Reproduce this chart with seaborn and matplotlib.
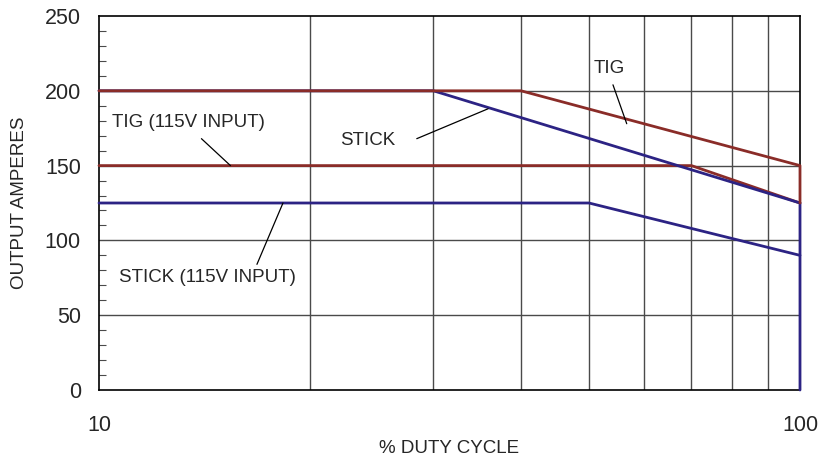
import matplotlib
matplotlib.use("Agg")
import matplotlib.pyplot as plt
import matplotlib.ticker as mticker
import seaborn as sns
import pandas as pd

RED = '#8a2c28'
BLUE = '#2c2384'
GRID = '#4a4a4a'

# duty cycle (%) / output amperes for each curve
tig_x = [10, 40, 100, 100]
tig_y = [200, 200, 150, 125]
tig115_x = [10, 70, 100]
tig115_y = [150, 150, 125]
stick_x = [10, 30, 100, 100]
stick_y = [200, 200, 125, 0]
stick115_x = [10, 50, 100]
stick115_y = [125, 125, 90]

y_ticks = [0, 50, 100, 150, 200, 250]
x_tick_labels = ['10', '100']

# label text, text position, leader line start, leader line end (data coords)
labels = [
    ("TIG (115V INPUT)", (10.43, 179), (14.0, 168), (15.4, 150)),
    ("STICK (115V INPUT)", (10.68, 75), (16.8, 84), (18.3, 125)),
    ("TIG", (50.8, 215), (54.1, 204), (56.6, 178)),
    ("STICK", (22.1, 167), (28.4, 168), (35.9, 188)),
]


def build_frame():
    rows = []
    for name, xs, ys in [("TIG (115V)", tig115_x, tig115_y),
                         ("STICK (115V)", stick115_x, stick115_y),
                         ("STICK", stick_x, stick_y),
                         ("TIG", tig_x, tig_y)]:
        for i, (x, y) in enumerate(zip(xs, ys)):
            rows.append({"series": name, "order": i, "duty": x, "amps": y})
    return pd.DataFrame(rows)


def main():
    sns.set_style("white")
    plt.rcParams['font.family'] = ['Liberation Sans', 'DejaVu Sans']

    fig = plt.figure(figsize=(8.21, 4.57), dpi=100)
    ax = fig.add_axes([99 / 821, 1 - 390 / 457, 701 / 821, 374 / 457])

    ax.set_xscale('log')
    ax.set_xlim(10, 100)
    ax.set_ylim(0, 250)

    # grid first so curves sit on top
    for gx in range(20, 100, 10):
        ax.axvline(gx, color=GRID, lw=1.0, zorder=1)
    for gy in [50, 100, 150, 200]:
        ax.axhline(gy, color=GRID, lw=1.0, zorder=1)

    df = build_frame()
    sns.lineplot(data=df, x="duty", y="amps", hue="series", units="series",
                 estimator=None, sort=False, ax=ax, legend=False, lw=2.0,
                 palette={"TIG (115V)": RED, "STICK (115V)": BLUE,
                          "STICK": BLUE, "TIG": RED}, zorder=3, clip_on=False)

    for text, tpos, p0, p1 in labels:
        ax.text(tpos[0], tpos[1], text, fontsize=13.5, va='center', ha='left', zorder=4)
        ax.plot([p0[0], p1[0]], [p0[1], p1[1]], color='black', lw=0.9, zorder=4)

    ax.set_yticks(y_ticks)
    ax.yaxis.set_minor_locator(mticker.MultipleLocator(10))
    ax.tick_params(axis='y', which='major', length=0, pad=13, labelsize=15.5)
    ax.tick_params(axis='y', which='minor', direction='in', length=5, width=0.8, color=GRID, left=True)

    ax.set_xticks([10, 100])
    ax.set_xticklabels(x_tick_labels)
    ax.xaxis.set_minor_locator(mticker.NullLocator())
    ax.tick_params(axis='x', which='major', length=0, pad=18, labelsize=15.5)

    ax.set_xlabel("% DUTY CYCLE", fontsize=13.5)
    ax.set_ylabel("OUTPUT AMPERES", fontsize=13.5)
    ax.xaxis.set_label_coords(0.5, (390 - 440) / 374)
    ax.yaxis.set_label_coords((20 - 99) / 701, 0.5)
    ax.yaxis.label.set_va('center')

    for side in ax.spines.values():
        side.set_color('black')
        side.set_linewidth(1.2)

    fig.savefig("out.png", dpi=100)


if __name__ == '__main__':
    main()
